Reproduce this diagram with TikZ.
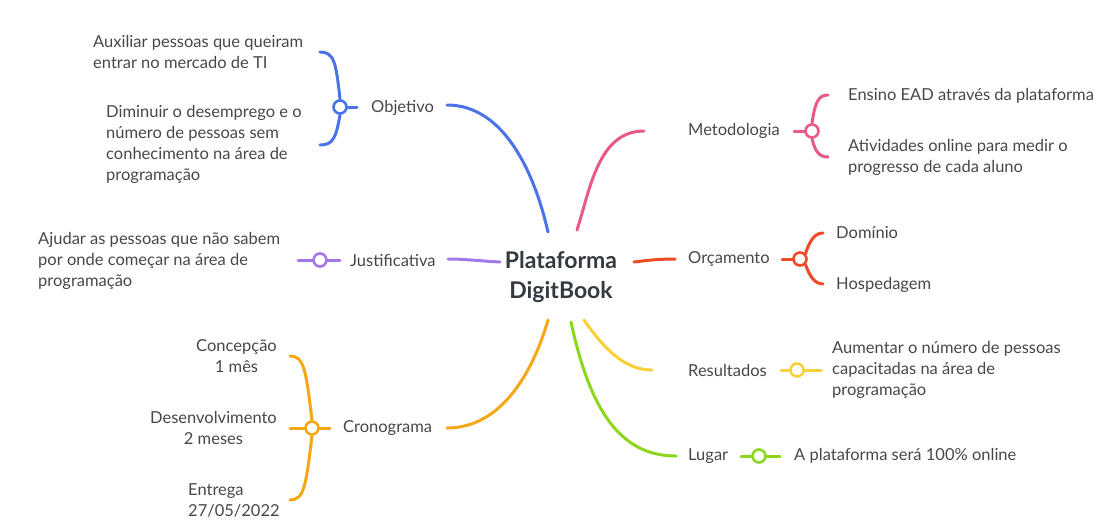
\documentclass[tikz,border=0pt]{standalone}
\usepackage{fontspec}
\setmainfont{Lato}
\definecolor{cblue}{HTML}{4A73E8}
\definecolor{cpink}{HTML}{E8588A}
\definecolor{cpurple}{HTML}{A07AE8}
\definecolor{cred}{HTML}{EE4A24}
\definecolor{corange}{HTML}{F5A716}
\definecolor{cyellow}{HTML}{F9D03A}
\definecolor{cgreen}{HTML}{8CD61C}
\definecolor{txt}{HTML}{474747}
\definecolor{ctxt}{HTML}{343A40}
\tikzset{
  lbl/.style={font=\fontsize{16.5}{21}\selectfont, text=txt, inner sep=0pt},
  branch/.style={line width=3pt, line cap=round},
  dot/.style={circle, draw, line width=2.6pt, fill=white, minimum size=13pt, inner sep=0pt},
}
\begin{document}
\begin{tikzpicture}[x=1pt,y=-1pt]
\useasboundingbox (0,0) rectangle (1100,522);
% centre
\node[font=\bfseries\fontsize{23}{30}\selectfont, align=center, text=ctxt, inner sep=0pt] (c) at (561,277) {Plataforma\\DigitBook};
% ---------- Objetivo
\node[lbl, anchor=west] (obj) at (371,108) {Objetivo};
\node[lbl, anchor=west, align=left] (obj1) at (93,52) {Auxiliar pessoas que queiram\\entrar no mercado de TI};
\node[lbl, anchor=west, align=left] (obj2) at (106,144) {Diminuir o desemprego e o\\número de pessoas sem\\conhecimento na área de\\programação};
\coordinate (cObj) at (548,232);
\coordinate (objIn) at (447,105);
\coordinate (objSt) at (357,107);
\coordinate (obj1e) at (320,52);
\coordinate (obj2e) at (320,145);
\node[dot, draw=cblue] (objC) at (340,107) {};
\draw[branch, cblue] (cObj) .. controls (535,175) and (505,105) .. (objIn);
\draw[branch, cblue] (objC.east) -- (objSt);
\draw[branch, cblue] (objC.north) .. controls (336,62) and (334,52) .. (obj1e);
\draw[branch, cblue] (objC.south) .. controls (336,138) and (333,145) .. (obj2e);
% ---------- Metodologia
\node[lbl, anchor=west] (met) at (688,131) {Metodologia};
\node[lbl, anchor=west] (met1) at (848,96) {Ensino EAD através da plataforma};
\node[lbl, anchor=west, align=left] (met2) at (848,157) {Atividades online para medir o\\progresso de cada aluno};
\coordinate (cMet) at (577,230);
\coordinate (metIn) at (644,131);
\coordinate (metSt) at (794,131);
\coordinate (met1e) at (828,95);
\coordinate (met2e) at (828,157);
\node[dot, draw=cpink] (metC) at (812,131) {};
\draw[branch, cpink] (cMet) .. controls (590,190) and (598,131) .. (metIn);
\draw[branch, cpink] (metC.west) -- (metSt);
\draw[branch, cpink] (metC.north) .. controls (815,103) and (818,95) .. (met1e);
\draw[branch, cpink] (metC.south) .. controls (815,150) and (818,157) .. (met2e);
% ---------- Justificativa
\node[lbl, anchor=west] (jus) at (350,260) {Justificativa};
\node[lbl, anchor=west, align=left] (jus1) at (38,261) {Ajudar as pessoas que não sabem\\por onde começar na área de\\programação};
\coordinate (cJus) at (500,262);
\coordinate (jusIn) at (448,259);
\coordinate (jusSt) at (340,260);
\coordinate (jus1e) at (298,260);
\node[dot, draw=cpurple] (jusC) at (320,260) {};
\draw[branch, cpurple] (cJus) .. controls (480,261) and (465,259) .. (jusIn);
\draw[branch, cpurple] (jusC.east) -- (jusSt);
\draw[branch, cpurple] (jusC.west) -- (jus1e);
% ---------- Orcamento
\node[lbl, anchor=west] (orc) at (688,259) {Orçamento};
\node[lbl, anchor=west] (orc1) at (836,233) {Domínio};
\node[lbl, anchor=west] (orc2) at (836,285) {Hospedagem};
\coordinate (cOrc) at (634,262);
\coordinate (orcIn) at (675,259);
\coordinate (orcSt) at (782,259);
\coordinate (orc1e) at (823,233);
\coordinate (orc2e) at (823,284);
\node[dot, draw=cred] (orcC) at (800,259) {};
\draw[branch, cred] (cOrc) .. controls (650,260) and (660,259) .. (orcIn);
\draw[branch, cred] (orcC.west) -- (orcSt);
\draw[branch, cred] (orcC.north east) .. controls (810,240) and (815,233) .. (orc1e);
\draw[branch, cred] (orcC.south east) .. controls (810,277) and (815,284) .. (orc2e);
% ---------- Cronograma
\node[lbl, anchor=west] (cro) at (343,428) {Cronograma};
\node[lbl, anchor=east, align=center] (cro1) at (277,356) {Concepção\\1 mês};
\node[lbl, anchor=east, align=center] (cro2) at (277,428) {Desenvolvimento\\2 meses};
\node[lbl, anchor=west, align=left] (cro3) at (188,500) {Entrega\\27/05/2022};
\coordinate (cCro) at (548,320);
\coordinate (croIn) at (447,428);
\coordinate (croSt) at (330,428);
\coordinate (cro1e) at (290,356);
\coordinate (cro2e) at (290,428);
\coordinate (cro3e) at (290,500);
\node[dot, draw=corange] (croC) at (312,428) {};
\draw[branch, corange] (cCro) .. controls (535,365) and (505,428) .. (croIn);
\draw[branch, corange] (croC.east) -- (croSt);
\draw[branch, corange] (croC.west) -- (cro2e);
\draw[branch, corange] (croC.north) .. controls (306,370) and (304,356) .. (cro1e);
\draw[branch, corange] (croC.south) .. controls (306,486) and (304,500) .. (cro3e);
% ---------- Resultados
\node[lbl, anchor=west] (res) at (688,370) {Resultados};
\node[lbl, anchor=west, align=left] (res1) at (832,370) {Aumentar o número de pessoas\\capacitadas na área de\\programação};
\coordinate (cRes) at (584,320);
\coordinate (resIn) at (652,370);
\coordinate (resSt) at (781,370);
\coordinate (res1e) at (821,370);
\node[dot, draw=cyellow] (resC) at (797,370) {};
\draw[branch, cyellow] (cRes) .. controls (605,350) and (625,370) .. (resIn);
\draw[branch, cyellow] (resC.west) -- (resSt);
\draw[branch, cyellow] (resC.east) -- (res1e);
% ---------- Lugar
\node[lbl, anchor=west] (lug) at (688,456) {Lugar};
\node[lbl, anchor=west] (lug1) at (794,456) {A plataforma será 100\% online};
\coordinate (cLug) at (571,322);
\coordinate (lugIn) at (676,456);
\coordinate (lugSt) at (741,456);
\coordinate (lug1e) at (780,456);
\node[dot, draw=cgreen] (lugC) at (759,456) {};
\draw[branch, cgreen] (cLug) .. controls (590,410) and (620,456) .. (lugIn);
\draw[branch, cgreen] (lugC.west) -- (lugSt);
\draw[branch, cgreen] (lugC.east) -- (lug1e);
\end{tikzpicture}
\end{document}
